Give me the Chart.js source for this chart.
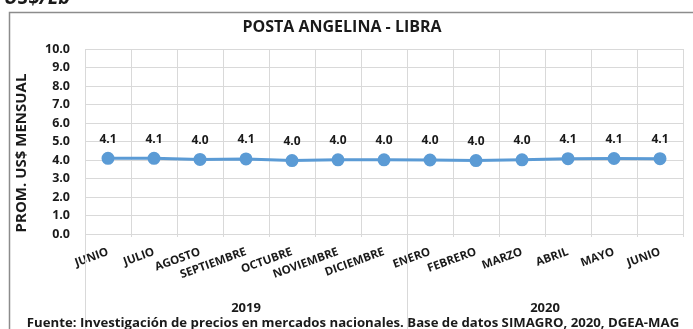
<!DOCTYPE html>
<html>
<head>
<meta charset="utf-8">
<script src="https://cdn.jsdelivr.net/npm/chart.js@4.4.1/dist/chart.umd.min.js"></script>
<style>
  html, body { margin: 0; padding: 0; background: #fff; overflow: hidden; }
  #wrap { position: relative; width: 693px; height: 329px; }
</style>
</head>
<body>
<div id="wrap"><canvas id="grafico" width="693" height="329"></canvas></div>
<script>
// Precio promedio mensual (US$/Lb)
const meses = ["JUNIO", "JULIO", "AGOSTO", "SEPTIEMBRE", "OCTUBRE", "NOVIEMBRE", "DICIEMBRE",
  "ENERO", "FEBRERO", "MARZO", "ABRIL", "MAYO", "JUNIO"];
const precios = [4.09, 4.09, 4.03, 4.06, 3.97, 4.01, 4.01, 4.0, 3.97, 4.01, 4.07, 4.08, 4.07];
const anios = ["2019", "2020"];
const mesesPorAnio = [7, 6];

const FUENTE = "'Open Sans', sans-serif";
const titulo = "POSTA ANGELINA - LIBRA";
const tituloEje = "PROM. US$ MENSUAL";
const unidad = "US$/Lb";
const nota = "Fuente: Investigación de precios en mercados nacionales. Base de datos SIMAGRO, 2020, DGEA-MAG";

// etiquetas de valor sobre cada punto
const etiquetasValor = {
  id: "etiquetasValor",
  afterDatasetsDraw(chart) {
    const ctx = chart.ctx;
    const meta = chart.getDatasetMeta(0);
    ctx.save();
    ctx.font = "bold 12px " + FUENTE;
    ctx.fillStyle = "#1a1a1a";
    ctx.textAlign = "center";
    ctx.textBaseline = "middle";
    meta.data.forEach((p, i) => {
      ctx.fillText(precios[i].toFixed(1), p.x, p.y - 19);
    });
    ctx.restore();
  }
};

// marco, títulos, años y fuente
const decoracion = {
  id: "decoracion",
  beforeDraw(chart) {
    const ctx = chart.ctx;
    ctx.save();
    ctx.fillStyle = "#fff";
    ctx.fillRect(0, 0, chart.width, chart.height);
    ctx.strokeStyle = "#8c8c8c";
    ctx.lineWidth = 1.5;
    ctx.beginPath();
    ctx.moveTo(9.5, chart.height);
    ctx.lineTo(9.5, 12.5);
    ctx.lineTo(chart.width, 12.5);
    ctx.stroke();
    ctx.fillStyle = "#1a1a1a";
    ctx.font = "italic bold 20px " + FUENTE;
    ctx.textAlign = "left";
    ctx.textBaseline = "alphabetic";
    ctx.fillText(unidad, 4, 4);
    ctx.restore();
  },
  afterDraw(chart) {
    const ctx = chart.ctx;
    const area = chart.chartArea;
    const x = chart.scales.x;
    ctx.save();
    ctx.fillStyle = "#1a1a1a";
    ctx.textAlign = "center";
    ctx.textBaseline = "middle";

    ctx.font = "bold 16px " + FUENTE;
    ctx.fillText(titulo, 342, 27);

    ctx.save();
    ctx.translate(22, 153);
    ctx.rotate(-Math.PI / 2);
    ctx.font = "bold 15px " + FUENTE;
    ctx.fillText(tituloEje, 0, 0);
    ctx.restore();

    // separadores de grupos de años
    ctx.strokeStyle = "#d9d9d9";
    ctx.lineWidth = 1;
    const paso = x.width / meses.length;
    let inicio = 0;
    anios.forEach((anio, k) => {
      const n = mesesPorAnio[k];
      const x0 = x.getPixelForValue(inicio) - paso / 2;
      const x1 = x.getPixelForValue(inicio + n - 1) + paso / 2;
      ctx.beginPath();
      ctx.moveTo(Math.round(x0) + 0.5, area.bottom);
      ctx.lineTo(Math.round(x0) + 0.5, chart.height);
      ctx.stroke();
      ctx.font = "bold 13px " + FUENTE;
      ctx.fillText(anio, (x0 + x1) / 2, 308);
      inicio += n;
    });

    ctx.font = "bold 13.2px " + FUENTE;
    ctx.fillText(nota, 353, 323);
    ctx.restore();
  }
};

new Chart(document.getElementById("grafico"), {
  type: "line",
  data: {
    labels: meses,
    datasets: [{
      data: precios,
      borderColor: "#5b9bd5",
      backgroundColor: "#5b9bd5",
      borderWidth: 3,
      pointRadius: 5,
      pointBackgroundColor: "#5b9bd5",
      pointBorderColor: "#5b9bd5",
      tension: 0
    }]
  },
  options: {
    responsive: false,
    animation: false,
    layout: { padding: { left: 0, right: 10, top: 49, bottom: 0 } },
    plugins: {
      legend: { display: false },
      tooltip: { enabled: false }
    },
    scales: {
      x: {
        offset: true,
        grid: { offset: true, color: "#d9d9d9", lineWidth: 1, tickLength: 3 },
        border: { display: false },
        ticks: {
          minRotation: 20,
          maxRotation: 20,
          autoSkip: false,
          padding: 8,
          color: "#1a1a1a",
          font: { family: FUENTE, size: 11.5, weight: "bold" }
        },
        afterFit(scale) { scale.height = 95; }
      },
      y: {
        min: 0,
        max: 10,
        grid: { color: "#d9d9d9", lineWidth: 1, drawTicks: false },
        border: { display: false },
        ticks: {
          stepSize: 1,
          autoSkip: false,
          padding: 15,
          color: "#1a1a1a",
          font: { family: FUENTE, size: 12.5, weight: "bold" },
          callback: (v) => v.toFixed(1)
        },
        afterFit(scale) { scale.width = 85; }
      }
    }
  },
  plugins: [decoracion, etiquetasValor]
});
</script>
</body>
</html>
